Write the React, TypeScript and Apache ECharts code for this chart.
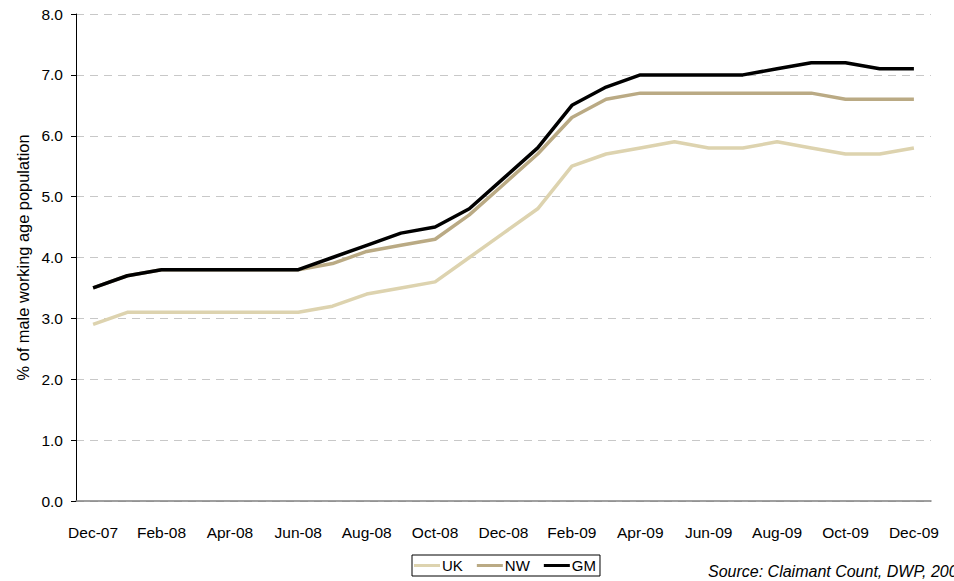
import React, { useEffect, useRef } from "react";
import * as echarts from "echarts";

const months = [
  "Dec-07", "Jan-08", "Feb-08", "Mar-08", "Apr-08", "May-08", "Jun-08", "Jul-08", "Aug-08",
  "Sep-08", "Oct-08", "Nov-08", "Dec-08", "Jan-09", "Feb-09", "Mar-09", "Apr-09", "May-09",
  "Jun-09", "Jul-09", "Aug-09", "Sep-09", "Oct-09", "Nov-09", "Dec-09",
];
const ukValues = [2.9, 3.1, 3.1, 3.1, 3.1, 3.1, 3.1, 3.2, 3.4, 3.5, 3.6, 4.0, 4.4, 4.8, 5.5, 5.7, 5.8, 5.9, 5.8, 5.8, 5.9, 5.8, 5.7, 5.7, 5.8];
const nwValues = [3.5, 3.7, 3.8, 3.8, 3.8, 3.8, 3.8, 3.9, 4.1, 4.2, 4.3, 4.7, 5.2, 5.7, 6.3, 6.6, 6.7, 6.7, 6.7, 6.7, 6.7, 6.7, 6.6, 6.6, 6.6];
const gmValues = [3.5, 3.7, 3.8, 3.8, 3.8, 3.8, 3.8, 4.0, 4.2, 4.4, 4.5, 4.8, 5.3, 5.8, 6.5, 6.8, 7.0, 7.0, 7.0, 7.0, 7.1, 7.2, 7.2, 7.1, 7.1];

const FONT = "Liberation Sans, Arial, sans-serif";

export default function App() {
  const ref = useRef<HTMLDivElement>(null);
  useEffect(() => {
    if (!ref.current) return;
    const chart = echarts.init(ref.current, undefined, { renderer: "svg" });
    chart.setOption({
      animation: false,
      backgroundColor: "#fff",
      textStyle: { fontFamily: FONT },
      grid: { left: 76, top: 14, width: 855, height: 487, containLabel: false },
      legend: {
        left: 412,
        top: 555,
        padding: [3, 4, 3, 2],
        borderColor: "#000",
        borderWidth: 1,
        itemGap: 14,
        itemWidth: 26,
        itemHeight: 3,
        icon: "rect",
        textStyle: { fontFamily: FONT, fontSize: 15, color: "#000", padding: [0, 0, 0, -3] },
        data: ["UK", "NW", "GM"],
      },
      graphic: [
        {
          type: "text",
          left: 708,
          top: 563,
          style: {
            text: "Source: Claimant Count, DWP, 2009",
            fontFamily: FONT,
            fontSize: 16,
            fontStyle: "italic",
            fill: "#000",
          },
        },
      ],
      xAxis: {
        type: "category",
        data: months,
        boundaryGap: true,
        axisLine: { lineStyle: { color: "#808080", width: 1.5 } },
        axisTick: { interval: 1, length: 5, lineStyle: { color: "#808080" } },
        axisLabel: { interval: 1, margin: 23, fontSize: 15.5, color: "#000", fontFamily: FONT },
        splitLine: { show: false },
      },
      yAxis: {
        type: "value",
        min: 0,
        max: 8,
        interval: 1,
        name: "% of male working age population",
        nameLocation: "middle",
        nameGap: 40,
        nameTextStyle: { fontSize: 16.4, color: "#000", fontFamily: FONT },
        axisLine: { show: true, lineStyle: { color: "#000", width: 1 } },
        axisTick: { show: true, length: 5, lineStyle: { color: "#000" } },
        axisLabel: {
          formatter: (v: number) => v.toFixed(1),
          fontSize: 15.5,
          color: "#000",
          margin: 13,
          fontFamily: FONT,
        },
        splitLine: { lineStyle: { color: "#c8c8c8", type: [8, 6], width: 1 } },
      },
      series: [
        {
          name: "UK",
          type: "line",
          data: ukValues,
          symbol: "none",
          color: "#DDD3AF",
          lineStyle: { width: 3.5, color: "#DDD3AF" },
        },
        {
          name: "NW",
          type: "line",
          data: nwValues,
          symbol: "none",
          color: "#BAAA84",
          lineStyle: { width: 3.5, color: "#BAAA84" },
        },
        {
          name: "GM",
          type: "line",
          data: gmValues,
          symbol: "none",
          color: "#000",
          lineStyle: { width: 3.5, color: "#000" },
        },
      ],
    });
    return () => chart.dispose();
  }, []);
  return <div ref={ref} style={{ width: 954, height: 581, position: "absolute", left: 0, top: 0 }} />;
}
